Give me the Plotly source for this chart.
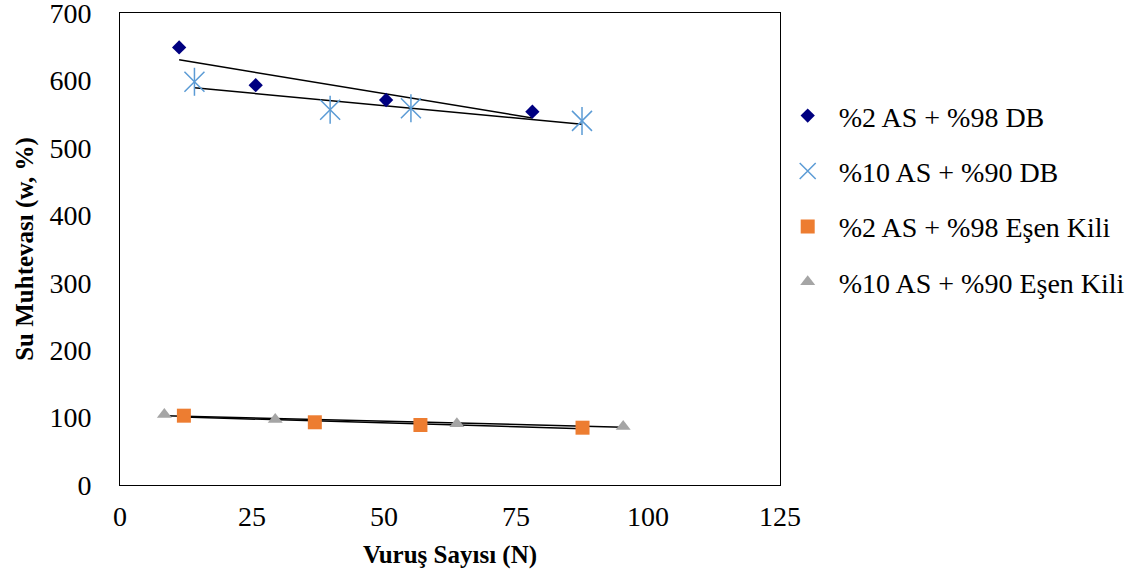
import numpy as np
import plotly.graph_objects as go

# Data
names = ["%2 AS + %98 DB", "%10 AS + %90 DB", "%2 AS + %98 Eşen Kili", "%10 AS + %90 Eşen Kili"]
x_db2 = [11.2, 25.7, 50.4, 78.1]
y_db2 = [649, 593, 571, 553.6]
x_db10 = [14.1, 39.8, 55.1, 87.5]
y_db10 = [598, 556.6, 558.6, 540]
x_ek2 = [12.1, 36.9, 56.9, 87.6]
y_ek2 = [102.8, 93, 89, 85]
x_ek10 = [8.4, 29.4, 63.8, 95.3]
y_ek10 = [104.5, 97, 91, 86.8]

x_ticks = [0, 25, 50, 75, 100, 125]
y_ticks = [0, 100, 200, 300, 400, 500, 600, 700]

FONT = "Liberation Serif"
fig = go.Figure()

LB = "#5B9BD5"
series = [
    (x_db2, y_db2, dict(symbol="diamond", size=11, color="#000080")),
    (x_db10, y_db10, dict(symbol="x-thin-open", size=20, color=LB, line=dict(width=1.5, color=LB))),
    (x_ek2, y_ek2, dict(symbol="square", size=14, color="#ED7D31")),
    (x_ek10, y_ek10, dict(symbol="triangle-up", size=13, color="#A5A5A5")),
]

# trendlines (linear fits, drawn between min and max x)
for xs, ys, _ in series:
    xa = np.array(xs); ya = np.array(ys)
    m, b = np.polyfit(xa, ya, 1)
    xe = np.array([xa.min(), xa.max()])
    fig.add_trace(go.Scatter(x=xe, y=m * xe + b, mode="lines",
                             line=dict(color="black", width=1.5),
                             showlegend=False, hoverinfo="skip"))

for i, (xs, ys, mk) in enumerate(series):
    fig.add_trace(go.Scatter(x=xs, y=ys, mode="markers", name=names[i],
                             marker=mk, legendgroup=str(i)))
    if i == 1:
        fig.add_trace(go.Scatter(x=xs, y=ys, mode="markers", showlegend=False,
                                 legendgroup=str(i),
                                 marker=dict(symbol="line-ns-open", size=20, color=LB,
                                             line=dict(width=1.5, color=LB))))

fig.update_layout(
    width=1137, height=580,
    margin=dict(l=120, r=357, t=13, b=95, autoexpand=False),
    plot_bgcolor="white", paper_bgcolor="white",
    font=dict(family=FONT, size=28, color="black"),
    showlegend=True,
    legend=dict(x=0.995, y=0.835, xanchor="left", yanchor="top",
                font=dict(family=FONT, size=28, color="black"),
                itemwidth=52,
                tracegroupgap=16, bgcolor="rgba(0,0,0,0)"),
    xaxis=dict(range=[0, 125], tickvals=x_ticks, showgrid=False, zeroline=False,
               showline=True, linecolor="black", linewidth=1, mirror=True,
               automargin=False,
               ticks="", ticklabelstandoff=6, ticklabeloverflow="allow",
               tickfont=dict(family=FONT, size=28),
               title=dict(text="<b>Vuruş Sayısı (N)</b>", standoff=14,
                          font=dict(family=FONT, size=25))),
    yaxis=dict(range=[0, 700], tickvals=y_ticks, showgrid=False, zeroline=False,
               showline=True, linecolor="black", linewidth=1, mirror=True,
               automargin=False,
               ticks="", ticklabelstandoff=22, ticklabeloverflow="allow",
               tickfont=dict(family=FONT, size=28),
               title=dict(text="<b>Su Muhtevası (w, %)</b>", standoff=8,
                          font=dict(family=FONT, size=25))),
)

fig.write_html("out.html", config={"displayModeBar": False},
               post_script="document.body.style.margin='0';")
